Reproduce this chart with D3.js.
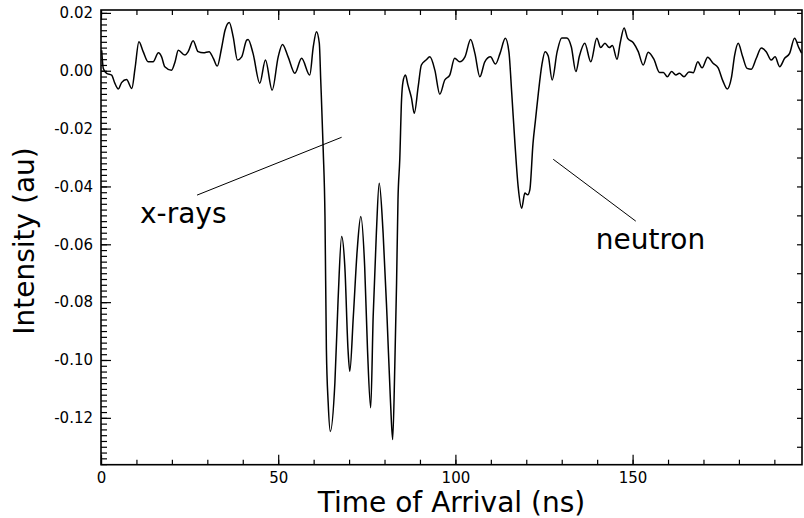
<!doctype html>
<html lang="en">
<head>
<meta charset="utf-8" />
  <title>Time of Arrival</title>
  <script src="https://d3js.org/d3.v7.min.js"></script>
  <style type="text/css">
    html, body { margin: 0; padding: 0; background: #fff; }
    #chart { width: 804px; height: 518px; }
    text { font-family: "DejaVu Sans", Verdana, sans-serif; fill: #000; }
  </style>
</head>
<body>
  <div id="chart"></div>
<script>

// time of arrival (ns) and intensity (au)
var tns = [0.2, 0.65, 1.6, 3.0, 3.9, 4.9, 5.8, 7.2, 8.7, 9.6, 10.7, 11.9, 13.3, 14.7, 16.2, 17.1, 18.0, 19.9,
  20.9, 21.8, 23.7, 24.6, 26.0, 27.4, 28.9, 30.5, 31.7, 32.8, 34.0, 35.0, 36.2, 37.3, 38.5, 39.7, 41.1, 41.5,
  42.9, 44.8, 46.4, 48.3, 50.0, 51.2, 52.8, 54.7, 56.6, 58.9, 59.9, 60.8, 61.6, 62.0, 62.7, 63.2, 63.6, 64.1,
  64.7, 66.0, 66.9, 67.9, 68.8, 69.7, 70.2, 71.2, 72.3, 73.3, 74.4, 75.2, 76.1, 76.8, 77.7, 78.5, 79.6, 80.7,
  81.7, 82.3, 82.9, 83.4, 83.8, 84.3, 84.8, 85.2, 85.9, 86.6, 87.6, 88.4, 89.5, 90.4, 91.7, 92.8, 94.2, 95.6,
  97.0, 98.4, 99.8, 101.2, 102.7, 104.3, 105.5, 106.9, 108.3, 109.9, 111.3, 112.6, 114.1, 115.1, 115.9, 116.8,
  117.7, 118.7, 119.6, 120.4, 121.0, 121.9, 122.6, 123.4, 124.4, 125.3, 126.2, 127.3, 128.7, 130.0, 131.4,
  132.7, 134.0, 135.0, 136.5, 138.2, 139.9, 141.0, 142.2, 143.4, 144.3, 145.6, 146.5, 147.6, 148.6, 150.2,
  151.6, 153.0, 154.4, 156.0, 157.6, 158.7, 159.8, 161.0, 162.2, 163.2, 164.5, 165.9, 167.1, 168.4, 169.6,
  171.2, 172.7, 174.1, 175.5, 176.7, 177.9, 178.8, 179.8, 181.0, 182.3, 183.5, 184.9, 186.3, 187.7, 189.1,
  190.2, 191.5, 192.9, 194.3, 195.7, 196.9, 197.7];
var intensite = [0.0071, 0.0008, -0.0009, -0.0015, -0.0043, -0.0063, -0.0041, -0.0030, -0.0061, 0.0008, 0.0100,
  0.0066, 0.0031, 0.0031, 0.0062, 0.0048, 0.0014, 0.0002, 0.0031, 0.0071, 0.0054, 0.0066, 0.0104, 0.0066,
  0.0062, 0.0066, 0.0043, 0.0016, 0.0077, 0.0140, 0.0167, 0.0117, 0.0037, 0.0048, 0.0106, 0.0108, 0.0060,
  -0.0043, 0.0037, -0.0067, 0.0048, 0.0091, 0.0048, -0.0009, 0.0043, -0.0015, 0.0083, 0.0135, 0.0095, -0.0032,
  -0.0274, -0.0504, -0.0964, -0.1147, -0.1247, -0.1078, -0.0792, -0.0573, -0.0677, -0.0964, -0.1039, -0.0849,
  -0.0619, -0.0504, -0.0677, -0.0964, -0.1165, -0.0849, -0.0561, -0.0389, -0.0561, -0.0849, -0.1148, -0.1275,
  -0.1022, -0.0734, -0.0446, -0.0308, -0.0101, -0.0039, -0.0015, -0.0049, -0.0094, -0.0147, -0.0055, 0.0020,
  0.0037, 0.0048, 0.0002, -0.0081, -0.0032, -0.0015, 0.0043, 0.0031, 0.0048, 0.0108, 0.0060, -0.0021, 0.0031,
  0.0048, 0.0023, 0.0060, 0.0112, 0.0065, -0.0078, -0.0251, -0.0400, -0.0475, -0.0423, -0.0429, -0.0412,
  -0.0251, -0.0170, -0.0078, 0.0020, 0.0066, 0.0051, -0.0032, 0.0065, 0.0113, 0.0113, 0.0083, -0.0003, 0.0051,
  0.0095, 0.0031, 0.0112, 0.0080, 0.0095, 0.0080, 0.0087, 0.0040, 0.0096, 0.0148, 0.0112, 0.0097, 0.0066,
  0.0020, 0.0064, 0.0040, -0.0006, -0.0006, -0.0021, -0.0003, -0.0015, -0.0009, -0.0021, -0.0004, -0.0007,
  0.0031, 0.0010, 0.0047, 0.0026, 0.0011, -0.0036, -0.0063, -0.0023, 0.0054, 0.0095, 0.0051, 0.0008, 0.0005,
  0.0043, 0.0079, 0.0066, 0.0037, 0.0048, 0.0014, 0.0043, 0.0060, 0.0112, 0.0080, 0.0061];

var xTicks = [0, 50, 100, 150];
var yTicks = [0.02, 0.00, -0.02, -0.04, -0.06, -0.08, -0.10, -0.12];

// annotations : label, anchor of the text (data), line from / to (data)
var notes = [
  {texte: "x-rays", t: 11.0, v: -0.0526, de: [27.1, -0.0430], a: [67.9, -0.0230]},
  {texte: "neutron", t: 139.6, v: -0.0616, de: [127.6, -0.0306], a: [150.9, -0.0520]}
];

var W = 804, H = 518;
var svg = d3.select("#chart").append("svg").attr("width", W).attr("height", H);

var x = d3.scaleLinear().domain([0, 197.8]).range([101, 802]);
var y = d3.scaleLinear().domain([-0.1362, 0.021]).range([464.7, 10]);

var x0 = x.range()[0], x1 = x.range()[1], y0 = y.range()[0], y1 = y.range()[1];

// courbe
var points = tns.map(function(t, i) { return [t, intensite[i]]; });
var ligne = d3.line().x(function(d){ return x(d[0]); }).y(function(d){ return y(d[1]); })
  .curve(d3.curveMonotoneX);
svg.append("path").datum(points).attr("d", ligne)
  .attr("fill", "none").attr("stroke", "#000").attr("stroke-width", 1.5).attr("stroke-linejoin", "round");

// axes (ticks inward)
var xMin = d3.range(0, 197, 10);
var yMin = d3.range(-0.136, 0.021, 0.002);
var yMinR = d3.range(-0.13, 0.021, 0.01);

function axe(g, gen) {
  g.call(gen);
  g.select(".domain").remove();
  g.selectAll("line").attr("stroke", "#000").attr("stroke-width", 1.2);
  return g;
}

// bas
axe(svg.append("g").attr("transform", "translate(0," + y0 + ")"),
  d3.axisBottom(x).tickValues(xMin).tickSize(-5).tickFormat(""));
var gb = axe(svg.append("g").attr("transform", "translate(0," + y0 + ")"),
  d3.axisBottom(x).tickValues(xTicks).tickSize(-10).tickPadding(8).tickFormat(d3.format("d")));
gb.selectAll("text").attr("font-size", 15).attr("font-family", "DejaVu Sans");
// haut
axe(svg.append("g").attr("transform", "translate(0," + y1 + ")"),
  d3.axisTop(x).tickValues(xMin).tickSize(-5).tickFormat(""));
axe(svg.append("g").attr("transform", "translate(0," + y1 + ")"),
  d3.axisTop(x).tickValues(xTicks).tickSize(-10).tickFormat(""));
// gauche
axe(svg.append("g").attr("transform", "translate(" + x0 + ",0)"),
  d3.axisLeft(y).tickValues(yMin).tickSize(-6).tickFormat(""));
var gg = axe(svg.append("g").attr("transform", "translate(" + x0 + ",0)"),
  d3.axisLeft(y).tickValues(yTicks).tickSize(-10).tickPadding(8)
    .tickFormat(function(d){ return Math.abs(d) < 1e-9 ? "0.00" : d.toFixed(2); }));
gg.selectAll("text").attr("font-size", 15).attr("font-family", "DejaVu Sans");
// droite
axe(svg.append("g").attr("transform", "translate(" + x1 + ",0)"),
  d3.axisRight(y).tickValues(yMinR).tickSize(-5).tickFormat(""));

// cadre
svg.append("rect").attr("x", x0).attr("y", y1).attr("width", x1 - x0).attr("height", y0 - y1)
  .attr("fill", "none").attr("stroke", "#000").attr("stroke-width", 1.6);

// titres
svg.append("text").attr("x", (x0 + x1) / 2).attr("y", 512).attr("text-anchor", "middle")
  .attr("font-size", 28).text("Time of Arrival (ns)");
svg.append("text").attr("transform", "translate(34,241) rotate(-90)")
  .attr("text-anchor", "middle").attr("font-size", 28).text("Intensity (au)");

// annotations
notes.forEach(function(n) {
  svg.append("line").attr("x1", x(n.de[0])).attr("y1", y(n.de[1])).attr("x2", x(n.a[0])).attr("y2", y(n.a[1]))
    .attr("stroke", "#000").attr("stroke-width", 1);
  svg.append("text").attr("x", x(n.t)).attr("y", y(n.v)).attr("font-size", 28).text(n.texte);
});

</script>
</body>
</html>
